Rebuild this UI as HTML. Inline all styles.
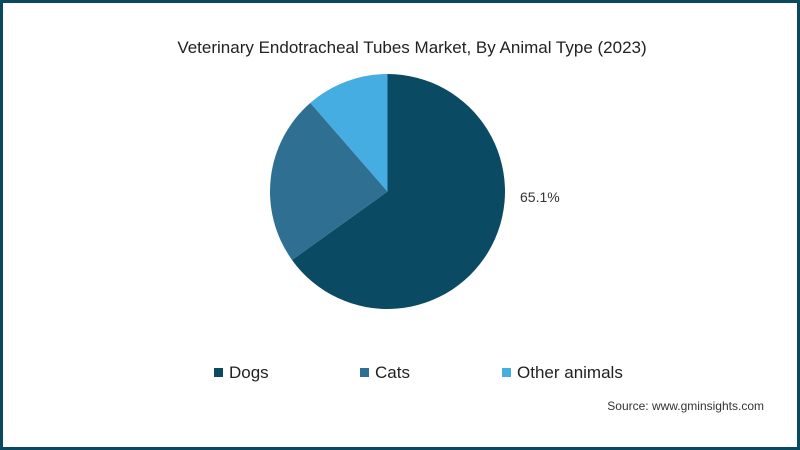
<!DOCTYPE html>
<html><head><meta charset="utf-8"><style>
html,body{margin:0;padding:0;background:#fff}
#frame{position:relative;width:794px;height:444px;border:3px solid #0b4a5e;background:#fff;font-family:"Liberation Sans",sans-serif;overflow:hidden}
svg{position:absolute;left:-3px;top:-3px}
</style></head><body>
<div id="frame">
<svg id="chart" width="800" height="450">
<text x="412" y="53" text-anchor="middle" font-size="17" fill="#222">Veterinary Endotracheal Tubes Market, By Animal Type (2023)</text>
<g id="slices"></g>
<text x="520" y="202" font-size="14" fill="#333">65.1%</text>
<g>
<rect x="214" y="368" width="9" height="9" fill="#0b4a63"/>
<text x="229" y="378" font-size="17" fill="#222">Dogs</text>
<rect x="360" y="368" width="9" height="9" fill="#2f6f92"/>
<text x="375" y="378" font-size="17" fill="#222">Cats</text>
<rect x="502" y="368" width="9" height="9" fill="#46ade2"/>
<text x="517" y="378" font-size="17" fill="#222">Other animals</text>
</g>
<text x="764" y="410" text-anchor="end" font-size="12" fill="#333">Source: www.gminsights.com</text>
</svg>
</div>
<script>
const categories = ["Dogs", "Cats", "Other animals"];
const shares = [65.1, 23.5, 11.4];
const colors = ["#0b4a63", "#2f6f92", "#46ade2"];
const cx = 387.5, cy = 191.5, r = 117.5;
const g = document.getElementById('slices');
const total = shares.reduce((a, b) => a + b, 0);
let acc = 0;
function pt(f){const a = f * 2 * Math.PI; return [cx + r * Math.sin(a), cy - r * Math.cos(a)];}
shares.forEach((v, i) => {
  const f0 = acc / total; acc += v; const f1 = acc / total;
  const [x0, y0] = pt(f0), [x1, y1] = pt(f1);
  const large = (f1 - f0) > 0.5 ? 1 : 0;
  const p = document.createElementNS('http://www.w3.org/2000/svg', 'path');
  p.setAttribute('d', `M${cx},${cy} L${x0},${y0} A${r},${r} 0 ${large} 1 ${x1},${y1} Z`);
  p.setAttribute('fill', colors[i]);
  
  
  g.appendChild(p);
});
</script>
</body></html>
